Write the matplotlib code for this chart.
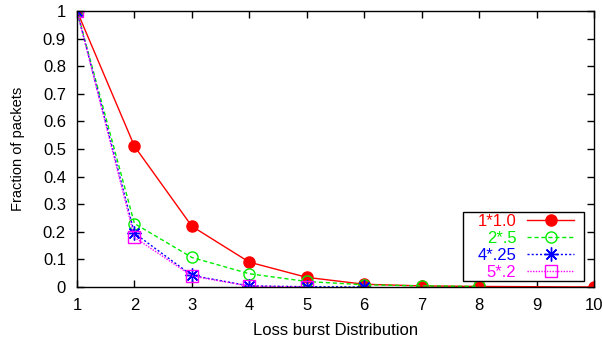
import matplotlib.pyplot as plt
from matplotlib.patches import Rectangle

plt.rcParams['font.family'] = ['Liberation Sans', 'DejaVu Sans']

# series
x_red = [1, 2, 3, 4, 5, 6, 7, 8, 10]
y_red = [1.0, 0.51, 0.22, 0.09, 0.035, 0.01, 0.004, 0.002, 0.0]
x_green = [1, 2, 3, 4, 5, 6, 7, 8]
y_green = [1.0, 0.23, 0.107, 0.048, 0.02, 0.008, 0.004, 0.002]
x_blue = [1, 2, 3, 4, 5, 6]
y_blue = [1.0, 0.195, 0.042, 0.004, 0.001, 0.0]
x_mag = [1, 2, 3, 4, 5]
y_mag = [1.0, 0.18, 0.04, 0.003, 0.0]

labels = ["1*1.0", "2*.5", "4*.25", "5*.2"]
xticks = list(range(1, 11))
yticks = [0, 0.1, 0.2, 0.3, 0.4, 0.5, 0.6, 0.7, 0.8, 0.9, 1]

W, H = 603, 345
fig = plt.figure(figsize=(W/100, H/100), dpi=100)
ax = fig.add_axes([77/W, 1 - 287/H, (594 - 77)/W, (287 - 11)/H])

ax.plot(x_red, y_red, color='#ff0000', lw=1, marker='o', ms=8, label=labels[0])
ax.plot(x_green, y_green, color='#00ee00', lw=1, ls=(0, (3, 2)), marker='o',
        ms=8, mfc='none', mew=1, label=labels[1])
ax.plot(x_blue, y_blue, color='#0000ff', lw=1, ls=(0, (1.5, 1.5)), marker=(8, 2, 0),
        ms=10, mew=1, label=labels[2])
ax.plot(x_mag, y_mag, color='#ff00ff', lw=1, ls=(0, (1, 1)), marker='s',
        ms=8, mfc='none', mew=1, label=labels[3])

ax.set_xlim(1, 10)
ax.set_ylim(0, 1)
ax.set_xticks(xticks)
ax.set_yticks(yticks)
ax.set_yticklabels([f"{v:g}" for v in yticks])
ax.tick_params(direction='in', top=True, right=True, length=5, labelsize=12, width=1)
ax.tick_params(axis='x', pad=8)
ax.tick_params(axis='y', pad=8)
for s in ax.spines.values():
    s.set_linewidth(1)

ax.set_xlabel("Loss burst Distribution", fontsize=12)
ax.set_ylabel("Fraction of packets", fontsize=10.5)
ax.xaxis.set_label_coords(0.5, -0.13)
ax.yaxis.set_label_coords(-0.10, 0.5)

# gnuplot-style key: white box, text right-aligned left of the sample
ax.add_patch(Rectangle((463/W, 1 - 281/H), 121/W, 69/H, transform=fig.transFigure,
                       facecolor='white', edgecolor='black', lw=1,
                       clip_on=False, zorder=4.5))
leg = ax.legend(loc='lower right', bbox_to_anchor=(574/W, 1 - 280/H),
                bbox_transform=fig.transFigure, markerfirst=False,
                labelcolor='linecolor', fontsize=12, handlelength=2.8,
                labelspacing=0.12, borderpad=0, handletextpad=0.66,
                borderaxespad=0, frameon=False)

fig.savefig("out.png", dpi=100)
